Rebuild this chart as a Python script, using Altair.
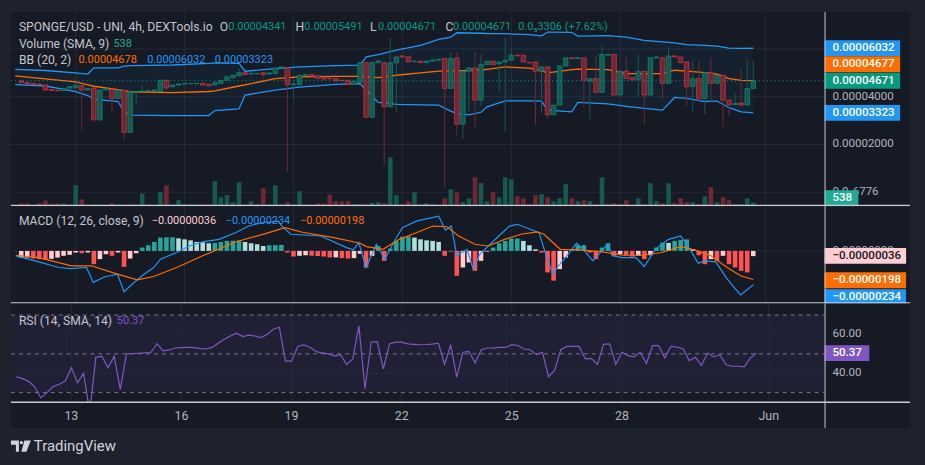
import altair as alt
import pandas as pd

# ---------------- data (prices in 1e-5, MACD in 1e-6) ----------------
OPEN = [4.66,4.60,4.56,4.53,4.49,4.30,4.26,4.26,4.36,4.38,
        4.46,4.28,4.36,3.03,4.28,4.32,3.93,4.28,2.51,4.19,
        4.22,4.24,4.25,4.22,4.69,4.42,4.49,4.53,4.55,4.55,
        4.56,4.52,4.49,4.56,4.69,4.79,4.88,5.01,4.95,4.96,
        5.01,4.95,4.97,5.21,5.22,4.51,4.51,4.90,4.93,4.88,
        4.83,4.77,4.76,4.69,4.69,4.51,4.60,5.43,3.14,5.43,
        5.42,3.58,5.42,5.71,5.67,5.47,5.49,5.43,5.49,5.53,
        5.60,4.35,5.63,2.85,5.07,5.21,3.86,5.35,5.49,5.38,
        5.46,5.53,5.74,5.74,5.43,5.46,5.07,5.25,3.24,3.65,
        5.29,5.63,5.60,5.63,4.65,4.76,4.18,5.74,5.77,4.07,
        5.07,4.80,4.73,5.07,4.07,5.63,5.63,4.56,5.71,5.67,
        5.46,4.42,4.76,3.93,5.01,4.56,4.90,3.86,3.67,3.74,
        3.65,4.341]
HIGH = [4.70,4.63,4.58,4.56,4.50,4.31,4.28,4.37,4.44,4.56,
        4.48,4.37,4.38,4.30,4.37,4.34,4.30,4.30,4.23,4.25,
        4.49,4.27,4.30,4.71,4.70,4.51,4.55,4.57,4.57,4.58,
        4.57,4.53,4.62,4.71,4.90,4.92,5.18,5.03,5.00,4.99,
        5.02,5.01,5.22,5.27,5.25,4.62,4.92,4.94,4.95,4.89,
        4.84,4.83,4.77,4.71,4.70,4.66,5.45,5.45,5.45,5.52,
        5.50,6.46,5.70,5.73,5.68,5.51,5.50,5.50,5.55,5.58,
        5.62,5.85,5.85,5.08,5.22,5.88,5.77,5.50,5.50,5.47,
        6.46,6.02,5.76,5.75,5.44,5.47,5.26,5.26,3.66,5.30,
        5.64,5.64,5.65,5.64,4.77,5.71,6.15,5.78,5.78,5.08,
        5.63,4.81,5.77,5.08,5.64,5.68,5.64,6.09,5.72,5.68,
        5.47,5.49,5.49,5.02,5.63,4.91,4.91,3.87,4.14,5.15,
        5.60,5.491]
LOW = [4.57,4.53,4.50,4.47,4.26,4.24,4.23,4.25,4.34,4.37,
       2.61,4.27,3.01,3.00,4.27,3.35,3.92,2.19,2.50,3.65,
       4.20,4.22,4.24,4.21,4.28,4.40,4.48,4.52,4.53,4.54,
       4.48,4.45,4.48,4.55,4.68,4.78,4.87,4.92,4.94,4.95,
       4.76,4.94,4.96,5.20,0.85,3.89,4.50,4.89,4.85,4.76,
       4.73,4.70,4.65,4.67,4.50,4.50,4.58,3.12,3.12,5.42,
       1.15,3.56,3.37,5.66,5.45,5.46,5.42,5.42,5.48,5.52,
       0.18,4.34,2.40,2.26,3.37,2.71,3.62,5.34,5.34,4.25,
       2.54,5.52,5.70,5.45,5.41,2.82,3.30,3.10,3.23,3.64,
       5.28,5.59,5.59,3.55,3.07,4.17,4.17,5.73,4.06,4.06,
       4.75,4.69,4.00,2.85,4.06,5.62,3.93,4.55,5.66,5.42,
       3.62,3.38,3.79,3.28,3.79,4.55,2.75,3.17,3.66,3.64,
       3.64,4.341]
CLOSE = [4.60,4.55,4.52,4.49,4.28,4.26,4.25,4.35,4.42,4.49,
         4.28,4.35,3.03,4.28,4.35,3.93,4.28,2.51,4.21,4.22,
         4.24,4.25,4.28,4.69,4.37,4.49,4.53,4.55,4.555,4.56,
         4.49,4.46,4.60,4.69,4.83,4.90,5.01,4.93,4.98,4.97,
         4.93,5.00,5.21,5.25,4.51,4.53,4.90,4.92,4.86,4.77,
         4.74,4.76,4.66,4.68,4.51,4.65,5.43,3.14,5.43,5.50,
         3.58,5.42,5.67,5.67,5.46,5.49,5.43,5.49,5.54,5.57,
         4.35,5.60,2.85,5.07,5.21,3.86,5.35,5.49,5.35,5.46,
         5.53,5.74,5.71,5.46,5.42,5.07,5.25,3.24,3.65,5.29,
         5.63,5.60,5.64,4.69,4.76,4.18,5.77,5.77,4.07,5.07,
         4.76,4.70,5.07,4.07,5.63,5.67,4.56,5.71,5.67,5.43,
         4.42,4.76,3.93,5.01,4.56,4.90,3.86,3.67,3.72,3.65,
         4.341,4.671]
VOLUME = [400,400,150,400,850,350,400,400,250,3150,
          1000,150,250,250,150,400,250,150,250,250,
          1900,250,150,2100,3150,250,900,250,250,250,
          250,250,3750,1350,1650,600,3600,250,750,300,
          2700,250,3150,250,600,250,2250,250,150,400,
          400,1750,750,750,750,300,300,250,500,600,
          450,7350,1650,300,750,2100,300,450,300,150,
          1200,2550,2100,600,1200,4350,3450,750,2100,1350,
          4350,4050,1500,1200,300,1650,1800,1350,750,1200,
          3300,1200,750,900,750,300,4350,300,450,300,
          900,150,1200,300,3450,750,450,3450,450,1200,
          600,600,300,1500,2850,600,1350,900,300,300,
          1200,538]

BB_J = [-1,4,9,11,12,16,17,18,25,31,32,36,37,42,46,52,56,57,59,62,66,69,71,72,
        74,76,77,80,84,86,87,91,92,97,100,103,106,108,110,113,115,117,119,121]
BB_UP = [5.15,5.10,5.00,4.95,5.21,5.21,5.28,5.30,5.33,5.40,5.42,5.40,5.07,5.18,5.25,
         5.30,5.32,5.67,5.76,5.95,6.15,6.40,6.50,6.68,6.67,6.66,6.65,6.64,6.60,6.55,
         6.71,6.70,6.54,6.56,6.50,6.36,6.30,6.26,6.18,6.15,6.12,6.04,6.03,6.032]
BB_MID = [4.87,4.75,4.62,4.50,4.44,4.30,4.25,4.21,4.17,4.22,4.25,4.45,4.50,4.76,4.83,
          4.85,4.85,4.83,4.80,4.90,5.00,5.07,5.07,5.08,5.10,5.12,5.15,5.25,5.20,5.08,
          5.00,5.14,5.16,5.14,4.97,4.97,4.97,5.11,5.07,5.01,4.95,4.76,4.69,4.678]
BB_LOW = [4.51,4.45,4.21,4.05,3.90,3.80,3.37,3.23,3.21,3.21,3.42,3.49,4.07,4.28,4.40,
          4.52,4.55,4.28,3.76,3.68,3.66,3.65,3.40,3.29,3.24,3.35,3.58,3.83,3.83,3.82,
          3.44,3.37,3.76,3.70,3.60,3.51,3.44,3.97,3.93,3.80,3.82,3.54,3.37,3.323]

HIST = [-0.46,-0.46,-0.53,-0.57,-0.60,-0.55,-0.46,-0.34,-0.27,-0.11,
        -0.16,-0.11,-0.92,-0.57,-0.23,-0.34,-0.11,-1.10,-0.53,-0.16,
        0.23,0.39,0.62,0.92,0.94,0.95,0.87,0.80,0.73,0.62,
        0.60,0.53,0.55,0.62,0.69,0.70,0.72,0.62,0.53,0.46,
        0.34,0.39,0.40,0.41,-0.11,-0.39,-0.34,-0.30,-0.33,-0.36,
        -0.39,-0.46,-0.45,-0.50,-0.53,-0.50,-0.20,-1.15,-0.34,0.34,
        -0.69,0.16,0.69,0.98,1.00,0.92,0.80,0.73,0.69,0.62,
        -0.34,-0.03,-1.72,-1.15,-0.80,-1.38,-0.69,-0.05,0.23,0.53,
        0.69,0.85,0.86,0.69,0.39,0.11,-0.11,-1.49,-2.06,-1.26,
        -0.46,0.11,0.39,0.40,-0.11,-0.57,0.23,0.53,-0.34,-0.23,
        -0.30,-0.39,-0.34,-0.57,-0.30,0.23,0.57,0.55,0.69,0.76,
        0.80,0.11,-0.30,-0.92,-0.57,-0.69,-0.34,-0.92,-1.15,-1.38,
        -1.49,-0.36]

MACD_J = [-0.9,2.9,6.2,8.3,10.8,11.9,13.8,14.8,15.9,17,18.6,20.3,21.9,23,25.7,27.8,30,
          32.7,35.4,37.6,39.8,42.5,43.3,44.6,49.5,53.8,54.9,55.8,57,58.7,60.1,61.7,63,
          65.3,69,70.1,71.1,72,73.7,74.7,75.8,77.2,80.7,82,85.6,86.7,87.9,88.8,90.2,91.8,
          93.1,94.5,96.9,97.7,99.4,101.6,103,104.8,107,109,110.2,111.9,113,114.8,116.7,
          118.9,121]
MACD_V = [-0.34,-0.76,-1.15,-1.22,-1.15,-2.18,-1.79,-1.72,-1.61,-2.82,-2.2,-1.61,-1.15,
          -0.57,-0.11,0.34,0.62,0.80,1.26,1.72,1.95,2.06,1.61,1.15,1.03,0.23,0.07,0.57,
          -1.15,0.46,-0.57,0.69,1.61,2.06,2.41,1.44,1.72,-0.34,0.11,-1.26,-0.23,0.34,1.72,
          1.84,1.26,-0.23,-1.61,-1.03,-0.34,0.53,0.0,-0.69,0.46,-0.34,-0.46,-0.46,-1.08,
          0.11,0.80,1.03,0.34,-0.85,-0.69,-0.76,-1.95,-3.05,-2.34]
SIG_J = [-0.9,2.9,8.3,11.6,15.9,19.2,21.9,25.7,30,35.4,40.9,43.6,46.3,51.7,56,57.1,59.8,
         62.5,65.3,68,70.4,72.3,75,77.2,79.9,82.6,85.3,86.4,89.1,92.3,96.1,99.4,102.6,
         105.9,109,111.3,114,116.7,118.9,121]
SIG_V = [-0.30,-0.46,-1.03,-1.03,-1.61,-2.0,-1.77,-1.15,-0.34,0.62,1.26,1.61,1.31,0.92,
         0.53,0.30,0.11,0.80,1.26,1.72,1.67,1.03,0.46,0.34,0.80,1.15,1.31,1.15,0.11,0.07,
         -0.07,-0.30,-0.30,-0.11,0.30,0.07,-0.34,-1.15,-1.72,-1.98]

RSI = [38.2,37.2,35.8,33.0,27.3,30.0,33.0,34.3,36.0,42.8,
       35.1,39.9,20.0,48.3,48.7,42.8,48.7,31.7,50.0,50.1,
       50.3,50.5,50.7,55.2,51.5,52.0,53.0,53.2,53.4,53.2,
       52.8,52.5,53.3,55.5,57.5,59.2,60.6,58.9,59.6,59.2,
       58.4,60.0,62.7,63.7,46.2,46.2,53.8,54.6,53.4,51.2,
       50.5,50.0,49.0,49.5,44.5,47.4,64.4,32.0,56.0,56.3,
       42.3,55.1,56.0,56.0,55.1,54.9,54.7,54.8,55.0,55.5,
       44.5,54.7,38.0,50.8,51.3,45.3,52.1,53.0,53.1,53.3,
       53.3,54.7,54.3,52.5,52.1,49.6,50.8,38.2,41.6,52.1,
       53.8,53.8,53.8,47.5,47.5,44.5,55.0,55.0,44.5,50.8,
       49.1,48.4,50.8,45.0,54.2,54.2,47.9,53.8,53.5,52.5,
       46.5,48.2,44.0,50.4,48.4,49.6,44.5,43.6,43.6,43.3,
       47.9,50.37]

TICK_J = [9, 27, 45, 63, 81, 99, 123]
TICK_LABEL = ["13", "16", "19", "22", "25", "28", "Jun"]

# ---------------- styling ----------------
FONT = "Roboto"
HFS = 12.2   # legend words
NFS = 11.0   # legend numbers
LFS = 11.6   # price-scale font size
UP, DOWN = "#089981", "#f23645"
BLUE, ORANGE, PURPLE = "#2196f3", "#ff6d00", "#7e57c2"
PANEL_BG = "#161a25"
OUTER_BG = "#1e222d"
GRID = "#252935"
SEP = "#c9ccd4"
TXT = "#c3c6ce"
AXT = "#b2b5be"
W = 904
PW = 818  # plot width (right scale starts here)

xs = alt.Scale(domain=[-0.878, 146.1], nice=False, zero=False)
ps = alt.Scale(domain=[-0.583, 7.542], nice=False, zero=False)
vs = alt.Scale(domain=[0, 29250], nice=False, zero=False)
ms = alt.Scale(domain=[-3.648, 3.097], nice=False, zero=False)
rs = alt.Scale(domain=[24.6, 75.9], nice=False, zero=False)

n = len(CLOSE)
cd = pd.DataFrame({"j": list(range(n)), "o": OPEN, "h": HIGH, "l": LOW, "c": CLOSE, "v": VOLUME})
cd["dir"] = ["up" if c >= o else "down" for o, c in zip(OPEN, CLOSE)]
cd["bt"] = cd[["o", "c"]].max(axis=1)
cd["bb"] = cd[["o", "c"]].min(axis=1)
cd["v0"] = 0
dir_c = alt.Color("dir:N", scale=alt.Scale(domain=["up", "down"], range=[UP, DOWN]), legend=None)
vol_c = alt.Color("dir:N", scale=alt.Scale(domain=["up", "down"], range=["#17594f", "#6e2833"]), legend=None)

bb = pd.DataFrame({"j": BB_J, "u": BB_UP, "m": BB_MID, "lo": BB_LOW})
ticks = pd.DataFrame({"j": TICK_J, "t": TICK_LABEL})

X = alt.X("j:Q", scale=xs, axis=None)


def vgrid():
    return alt.Chart(ticks).mark_rule(color=GRID, strokeWidth=1).encode(x=X)


def texts(rows):
    df = pd.DataFrame(rows, columns=["t", "x", "y", "c", "s"])
    return alt.Chart(df).mark_text(align="left", baseline="middle", font=FONT).encode(
        x=alt.X("x:Q", scale=None), y=alt.Y("y:Q", scale=None), text="t:N",
        color=alt.Color("c:N", scale=None), size=alt.Size("s:Q", scale=None, legend=None))


def boxes(rows, yscale):
    df = pd.DataFrame(rows, columns=["t", "y", "x1", "x2", "bg", "fg"])
    rule = alt.Chart(df).mark_rule(strokeWidth=16, strokeCap="butt").encode(
        y=alt.Y("y:Q", scale=yscale, axis=None), x=alt.X("x1:Q", scale=None), x2="x2:Q",
        color=alt.Color("bg:N", scale=None))
    txt = alt.Chart(df).mark_text(align="left", baseline="middle", font=FONT, fontSize=LFS,
                                  fontWeight=500, dx=8).encode(
        y=alt.Y("y:Q", scale=yscale, axis=None), x=alt.X("x1:Q", scale=None), text="t:N",
        color=alt.Color("fg:N", scale=None))
    return rule + txt


def plain_labels(rows, yscale, color=AXT):
    df = pd.DataFrame(rows, columns=["t", "y"])
    return alt.Chart(df).mark_text(align="left", baseline="middle", font=FONT, fontSize=LFS,
                                   color=color, dx=8).encode(
        y=alt.Y("y:Q", scale=yscale, axis=None), x=alt.value(PW), text="t:N")


def seps(h, bottom=True):
    layers = [alt.Chart(pd.DataFrame({"a": [0]})).mark_rule(color=SEP, strokeWidth=1).encode(
        x=alt.value(PW + 0.5), y=alt.value(0), y2=alt.value(h))]
    if bottom:
        layers.append(alt.Chart(pd.DataFrame({"a": [0]})).mark_rule(color=SEP, strokeWidth=1.5).encode(
            x=alt.value(0), x2=alt.value(W), y=alt.value(h - 0.75)))
    return layers


# ---------------- price panel ----------------
PH = 195
hgrid = alt.Chart(pd.DataFrame({"p": [6, 4, 2, 0]})).mark_rule(color=GRID).encode(
    y=alt.Y("p:Q", scale=ps, axis=None), x=alt.value(0), x2=alt.value(PW))
bb_fill = alt.Chart(bb).mark_area(color=BLUE, opacity=0.06, clip=True).encode(
    x=X, y=alt.Y("lo:Q", scale=ps, axis=None), y2="u:Q")
bb_u = alt.Chart(bb).mark_line(color=BLUE, strokeWidth=1.3, clip=True).encode(x=X, y=alt.Y("u:Q", scale=ps, axis=None))
bb_l = alt.Chart(bb).mark_line(color=BLUE, strokeWidth=1.3, clip=True).encode(x=X, y=alt.Y("lo:Q", scale=ps, axis=None))
bb_m = alt.Chart(bb).mark_line(color=ORANGE, strokeWidth=1.3, clip=True).encode(x=X, y=alt.Y("m:Q", scale=ps, axis=None))
vol = alt.Chart(cd).mark_bar(width=4.6).encode(x=X, y=alt.Y("v:Q", scale=vs, axis=None), y2="v0:Q", color=vol_c)
wick = alt.Chart(cd).mark_rule(strokeWidth=1).encode(x=X, y=alt.Y("l:Q", scale=ps, axis=None), y2="h:Q", color=dir_c)
body = alt.Chart(cd).mark_bar(width=4.6, strokeWidth=0.6).encode(
    x=X, y=alt.Y("bb:Q", scale=ps, axis=None), y2="bt:Q", color=dir_c, stroke=dir_c)
lastline = alt.Chart(pd.DataFrame({"p": [CLOSE[-1]]})).mark_rule(color=UP, strokeDash=[1, 3]).encode(
    y=alt.Y("p:Q", scale=ps, axis=None), x=alt.value(0), x2=alt.value(PW))

hdr_price = texts([
    ["SPONGE/USD  - UNI, 4h, DEXTools.io", 8, 15, TXT, HFS],
    ["O", 210, 15, TXT, HFS], ["0.00004341", 218.5, 15, UP, NFS],
    ["H", 286, 15, TXT, HFS], ["0.00005491", 295, 15, UP, NFS],
    ["L", 361, 15, TXT, HFS], ["0.00004671", 369, 15, UP, NFS],
    ["C", 437, 15, TXT, HFS], ["0.00004671", 444.5, 15, UP, NFS],
    ["0.0\u20853306 (+7.62%)", 510, 15, UP, NFS],
    ["Volume (SMA, 9)", 8, 31.5, TXT, HFS], ["538", 103, 31.5, "#22ab94", NFS],
    ["BB (20, 2)", 8, 48, TXT, HFS], ["0.00004678", 68, 48, ORANGE, NFS],
    ["0.00006032", 137, 48, BLUE, NFS], ["0.00003323", 205, 48, BLUE, NFS],
])
price_plain = plain_labels([["0.00004000", 4.0], ["0.00002000", 2.0], ["0.0\u20856776", 0.02]], ps)
price_boxes = boxes([
    ["0.00006032", 6.032, PW, 894, BLUE, "#ffffff"],
    ["0.00004677", 5.36, PW, 894, ORANGE, "#ffffff"],
    ["0.00004671", 4.671, PW, 894, UP, "#ffffff"],
    ["0.00003323", 3.323, PW, 894, BLUE, "#ffffff"],
    ["538", -0.25, PW, 852, "#22ab94", "#ffffff"],
], ps)

price = alt.layer(
    vgrid(), hgrid, bb_fill, vol, bb_u, bb_l, bb_m, wick, body, lastline,
    hdr_price, price_plain, price_boxes, *seps(PH)
).resolve_scale(y="independent").properties(
    width=W, height=PH, view=alt.ViewBackground(fill=PANEL_BG, strokeWidth=0))

# ---------------- MACD panel ----------------
MH = 98
hd = pd.DataFrame({"j": list(range(n)), "hv": HIST})
prev = [HIST[0]] + HIST[:-1]
cols = []
for hv, pv in zip(HIST, prev):
    if hv >= 0:
        cols.append("#26a69a" if hv >= pv else "#b2dfdb")
    else:
        cols.append("#ff5252" if hv < pv else "#ffcdd2")
hd["col"] = cols
hd["z"] = 0
md = pd.DataFrame({"j": MACD_J, "v": MACD_V})
sd = pd.DataFrame({"j": SIG_J, "v": SIG_V})
zero = alt.Chart(pd.DataFrame({"v": [0]})).mark_rule(color=GRID).encode(
    y=alt.Y("v:Q", scale=ms, axis=None), x=alt.value(0), x2=alt.value(PW))
hist = alt.Chart(hd).mark_bar(width=4.6).encode(
    x=X, y=alt.Y("hv:Q", scale=ms, axis=None), y2="z:Q", color=alt.Color("col:N", scale=None))
mline = alt.Chart(md).mark_line(color=BLUE, strokeWidth=1.2, clip=True).encode(x=X, y=alt.Y("v:Q", scale=ms, axis=None))
sline = alt.Chart(sd).mark_line(color=ORANGE, strokeWidth=1.2, clip=True).encode(x=X, y=alt.Y("v:Q", scale=ms, axis=None))
hdr_macd = texts([
    ["MACD (12, 26, close, 9)", 8, 15, TXT, HFS],
    ["\u22120.00000036", 141.5, 15, "#ffcdd2", NFS],
    ["\u22120.00000234", 216, 15, BLUE, NFS],
    ["\u22120.00000198", 290.5, 15, ORANGE, NFS],
])
macd_plain = plain_labels([["0.00000000", 0.0]], ms)
macd_boxes = boxes([
    ["\u22120.00000036", -0.344, PW, 900, "#ffcdd2", "#131722"],
    ["\u22120.00000198", -2.03, PW, 900, ORANGE, "#ffffff"],
    ["\u22120.00000234", -3.2, PW, 900, BLUE, "#ffffff"],
], ms)
macd = alt.layer(vgrid(), zero, hist, mline, sline, hdr_macd, macd_plain, macd_boxes, *seps(MH)).properties(
    width=W, height=MH, view=alt.ViewBackground(fill=PANEL_BG, strokeWidth=0))

# ---------------- RSI panel ----------------
RH = 100
rd = pd.DataFrame({"j": list(range(n)), "r": RSI})
band = alt.Chart(pd.DataFrame({"a": [30], "b": [70]})).mark_rect(color=PURPLE, opacity=0.1).encode(
    y=alt.Y("a:Q", scale=rs, axis=None), y2="b:Q", x=alt.value(0), x2=alt.value(PW))
rgrid = alt.Chart(pd.DataFrame({"v": [60, 40]})).mark_rule(color=GRID).encode(
    y=alt.Y("v:Q", scale=rs, axis=None), x=alt.value(0), x2=alt.value(PW))
dashes = alt.Chart(pd.DataFrame({"v": [70, 50, 30]})).mark_rule(color="#787b86", strokeDash=[4, 4]).encode(
    y=alt.Y("v:Q", scale=rs, axis=None), x=alt.value(0), x2=alt.value(PW))
rline = alt.Chart(rd).mark_line(color=PURPLE, strokeWidth=1.2, clip=True).encode(
    x=X, y=alt.Y("r:Q", scale=rs, axis=None))
hdr_rsi = texts([["RSI (14, SMA, 14)", 8, 17, TXT, HFS], ["50.37", 106.5, 17, PURPLE, NFS]])
rsi_plain = plain_labels([["60.00", 60], ["40.00", 40]], rs)
rsi_boxes = boxes([["50.37", 50.37, PW, 863, PURPLE, "#ffffff"]], rs)
rsi = alt.layer(band, vgrid(), rgrid, dashes, rline, hdr_rsi, rsi_plain, rsi_boxes, *seps(RH)).properties(
    width=W, height=RH, view=alt.ViewBackground(fill=PANEL_BG, strokeWidth=0))

# ---------------- time axis row ----------------
AH = 25
axis_txt = alt.Chart(ticks).mark_text(font=FONT, fontSize=12.5, color=AXT, baseline="middle").encode(
    x=X, y=alt.value(13), text="t:N")
axis_row = alt.layer(axis_txt, *seps(AH, bottom=False)).properties(
    width=W, height=AH, view=alt.ViewBackground(fill=PANEL_BG, strokeWidth=0))

# ---------------- logo row ----------------
LOGO = ("M-1,-0.55 L-0.2,-0.55 L-0.2,0.6 L-0.5,0.6 L-0.5,-0.1 L-1,-0.1 Z "
        "M-0.12,-0.33 a0.17,0.17 0 1,0 0.34,0 a0.17,0.17 0 1,0 -0.34,0 Z "
        "M0.35,-0.55 L1,-0.55 L0.55,0.6 L0.05,0.6 Z")
logo_sym = alt.Chart(pd.DataFrame({"a": [0]})).mark_point(
    shape=LOGO, size=400, filled=True, color="#d1d4dc", opacity=1, strokeWidth=0).encode(
    x=alt.value(10), y=alt.value(18))
logo_txt = alt.Chart(pd.DataFrame({"t": ["TradingView"]})).mark_text(
    font=FONT, fontSize=15, color="#d1d4dc", align="left", baseline="middle").encode(
    x=alt.value(23), y=alt.value(18), text="t:N")
logo_row = alt.layer(logo_sym, logo_txt).properties(
    width=W, height=37, view=alt.ViewBackground(strokeWidth=0))

chart = alt.vconcat(price, macd, rsi, axis_row, logo_row, spacing=0, bounds="flush").properties(
    background=OUTER_BG,
    padding={"left": 10, "top": 10, "right": 11, "bottom": 0},
).configure_view(strokeWidth=0)

chart.save("out.html", embed_options={"renderer": "svg", "actions": False})
